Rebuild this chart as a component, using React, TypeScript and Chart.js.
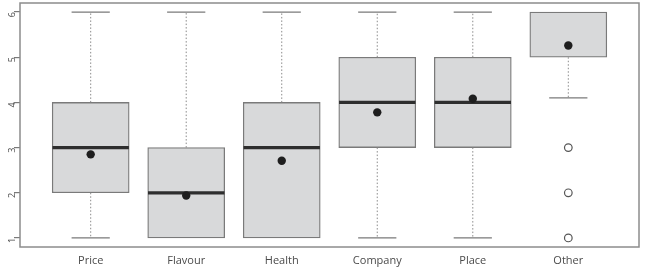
import React, { useEffect, useRef } from "react";
import { Chart, registerables } from "chart.js";

Chart.register(...registerables);

const categories = ["Price", "Flavour", "Health", "Company", "Place", "Other"];
const whiskerLow = [1, 1, 1, 1, 1, 4.1];
const q1 = [2, 1, 1, 3, 3, 5];
const medians = [3, 2, 3, 4, 4, 6];
const q3 = [4, 3, 4, 5, 5, 6];
const whiskerHigh = [6, 6, 6, 6, 6, 6];
const means = [2.85, 1.94, 2.71, 3.78, 4.08, 5.26];
const outliers: number[][] = [[], [], [], [], [], [3, 2, 1]];
const yTicks = [1, 2, 3, 4, 5, 6];

const FONT = "'Open Sans', 'DejaVu Sans', sans-serif";

const boxPlugin = {
  id: "boxDecor",
  afterDatasetDraw(chart: any, args: any) {
    if (args.meta.type !== "bar") return;
    const ctx = chart.ctx;
    const xs = chart.scales.x;
    const ys = chart.scales.y;
    const capHalf = xs.getPixelForValue(1.2) - xs.getPixelForValue(1);
    const boxHalf = xs.getPixelForValue(1.4) - xs.getPixelForValue(1);
    ctx.save();
    categories.forEach((_, i) => {
      const cx = xs.getPixelForValue(i + 1);
      // whiskers (dotted)
      ctx.strokeStyle = "#8a8a8a";
      ctx.lineWidth = 1;
      ctx.setLineDash([1.5, 2]);
      ctx.beginPath();
      if (whiskerHigh[i] > q3[i]) {
        ctx.moveTo(cx, ys.getPixelForValue(q3[i]));
        ctx.lineTo(cx, ys.getPixelForValue(whiskerHigh[i]));
      }
      if (whiskerLow[i] < q1[i]) {
        ctx.moveTo(cx, ys.getPixelForValue(q1[i]));
        ctx.lineTo(cx, ys.getPixelForValue(whiskerLow[i]));
      }
      ctx.stroke();
      // caps
      ctx.setLineDash([]);
      ctx.strokeStyle = "#7a7a7a";
      ctx.lineWidth = 1.3;
      ctx.beginPath();
      if (whiskerHigh[i] > q3[i]) {
        const y = ys.getPixelForValue(whiskerHigh[i]);
        ctx.moveTo(cx - capHalf, y);
        ctx.lineTo(cx + capHalf, y);
      }
      if (whiskerLow[i] < q1[i]) {
        const y = ys.getPixelForValue(whiskerLow[i]);
        ctx.moveTo(cx - capHalf, y);
        ctx.lineTo(cx + capHalf, y);
      }
      ctx.stroke();
      // median (not visible in the reference when it sits on the box edge)
      if (medians[i] < q3[i]) {
        ctx.strokeStyle = "#2e2e2e";
        ctx.lineWidth = 3.2;
        ctx.beginPath();
        const my = ys.getPixelForValue(medians[i]);
        ctx.moveTo(cx - boxHalf, my);
        ctx.lineTo(cx + boxHalf, my);
        ctx.stroke();
      }
    });
    ctx.restore();
  },
  afterDraw(chart: any) {
    const { ctx, chartArea } = chart;
    ctx.save();
    ctx.strokeStyle = "#8c8c8c";
    ctx.lineWidth = 1.5;
    ctx.strokeRect(chartArea.left, chartArea.top, chartArea.right - chartArea.left, chartArea.bottom - chartArea.top);
    ctx.restore();
  },
};

export default function App() {
  const ref = useRef<HTMLCanvasElement>(null);
  useEffect(() => {
    document.body.style.margin = "0";
    const outlierPts: { x: number; y: number }[] = [];
    outliers.forEach((arr, i) => arr.forEach((v) => outlierPts.push({ x: i + 1, y: v })));
    const chart = new Chart(ref.current!, {
      type: "bar",
      data: {
        datasets: [
          {
            type: "scatter",
            data: means.map((m, i) => ({ x: i + 1, y: m })),
            pointRadius: 4.2,
            pointBackgroundColor: "#1e1e1e",
            pointBorderColor: "#1e1e1e",
            pointBorderWidth: 0,
            order: 1,
          } as any,
          {
            type: "scatter",
            data: outlierPts,
            pointRadius: 3.8,
            pointBackgroundColor: "#ffffff",
            pointBorderColor: "#555555",
            pointBorderWidth: 1.2,
            order: 2,
          } as any,
          {
            type: "bar",
            data: categories.map((_, i) => ({ x: i + 1, y: [q1[i], q3[i]] })),
            backgroundColor: "#d8d9da",
            borderColor: "#7a7a7a",
            borderWidth: 1.3,
            borderSkipped: false,
            barThickness: 77,
            order: 3,
          } as any,
        ],
      },
      options: {
        responsive: false,
        animation: false,
        events: [],
        layout: { autoPadding: false, padding: { top: 3, right: 9, left: 0, bottom: 0 } },
        plugins: { legend: { display: false }, tooltip: { enabled: false } },
        scales: {
          x: {
            type: "linear",
            min: 0.26,
            max: 6.74,
            offset: false,
            afterBuildTicks: (s: any) => {
              s.ticks = categories.map((_, i) => ({ value: i + 1 }));
            },
            afterFit: (s: any) => {
              s.height = 22;
              s.paddingLeft = 0;
              s.paddingRight = 0;
            },
            grid: { display: false, drawTicks: false },
            border: { display: false },
            ticks: {
              autoSkip: false,
              maxRotation: 0,
              padding: 7,
              color: "#4a4a4a",
              font: { family: FONT, size: 11 },
              callback: (v: any) => categories[Number(v) - 1] ?? "",
            },
          },
          y: {
            type: "linear",
            min: 0.8,
            max: 6.2,
            afterBuildTicks: (s: any) => {
              s.ticks = yTicks.map((v) => ({ value: v }));
            },
            afterFit: (s: any) => {
              s.width = 20;
              s.paddingTop = 0;
              s.paddingBottom = 0;
            },
            grid: { drawOnChartArea: false, drawTicks: true, tickLength: 6, color: "#7a7a7a", lineWidth: 1.2 },
            border: { display: false },
            ticks: {
              minRotation: 90,
              maxRotation: 90,
              padding: 2,
              color: "#4a4a4a",
              font: { family: FONT, size: 9 },
              callback: (v: any) => String(v),
            },
          },
        },
      },
      plugins: [boxPlugin],
    } as any);
    return () => chart.destroy();
  }, []);
  return (
    <div style={{ width: 648, height: 269 }}>
      <canvas ref={ref} width={648} height={269} />
    </div>
  );
}
